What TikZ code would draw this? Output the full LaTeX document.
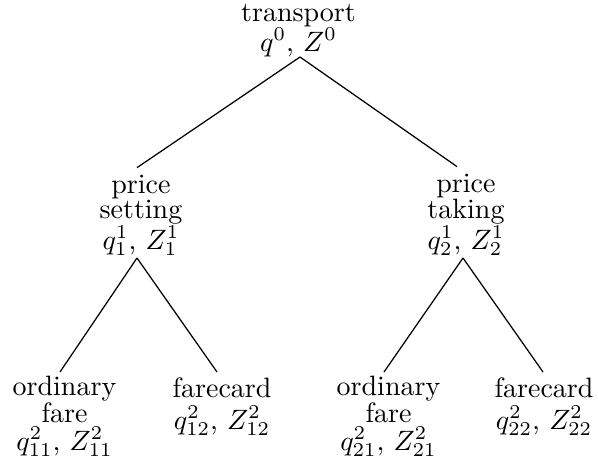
\documentclass[tikz,border=0pt]{standalone}
\usepackage{graphicx}
\newcommand{\bigstack}[1]{\scalebox{2.8}{\vbox{\baselineskip=0pt\lineskip=0.6pt\lineskiplimit=0pt\halign{\hfil##\hfil\cr#1\crcr}}}}
\newcommand{\gap}[1]{\noalign{\kern#1}}
\begin{document}
\begin{tikzpicture}[x=1pt,y=-1pt,
  lbl/.style={inner sep=0pt,anchor=base},
  edge/.style={line width=1.25pt}]
\useasboundingbox (0,0) rectangle (598,466);
\node[lbl] (root) at (298.5,51) {\bigstack{transport\cr$q^0$, $Z^0$}};
\node[lbl] (ps) at (141,249) {\bigstack{price\cr setting\cr$q^1_1$, $Z^1_1$}};
\node[lbl] (pt) at (466,249) {\bigstack{price\cr taking\cr$q^1_2$, $Z^1_2$}};
\node[lbl] (of1) at (64.5,450) {\bigstack{ordinary\cr fare\cr\gap{1pt}$q^2_{11}$, $Z^2_{11}$}};
\node[lbl] (fc1) at (222,429) {\bigstack{farecard\cr\gap{2.5pt}$q^2_{12}$, $Z^2_{12}$}};
\node[lbl] (of2) at (388.5,450) {\bigstack{ordinary\cr fare\cr\gap{1pt}$q^2_{21}$, $Z^2_{21}$}};
\node[lbl] (fc2) at (544,429) {\bigstack{farecard\cr\gap{2.5pt}$q^2_{22}$, $Z^2_{22}$}};
\draw[edge] ([xshift=1.5pt,yshift=-6pt]root.base) -- ([xshift=-4pt,yshift=7pt]ps.north);
\draw[edge] ([xshift=1.5pt,yshift=-6pt]root.base) -- ([xshift=-9pt,yshift=7pt]pt.north);
\draw[edge] ([xshift=-4pt,yshift=-9pt]ps.base) -- ([xshift=-4.5pt,yshift=78pt]of1.base);
\draw[edge] ([xshift=-4pt,yshift=-9pt]ps.base) -- ([xshift=-5pt,yshift=57pt]fc1.base);
\draw[edge] ([xshift=-3pt,yshift=-9pt]pt.base) -- ([xshift=-4.5pt,yshift=78pt]of2.base);
\draw[edge] ([xshift=-3pt,yshift=-9pt]pt.base) -- ([xshift=-1pt,yshift=57pt]fc2.base);
\end{tikzpicture}
\end{document}
